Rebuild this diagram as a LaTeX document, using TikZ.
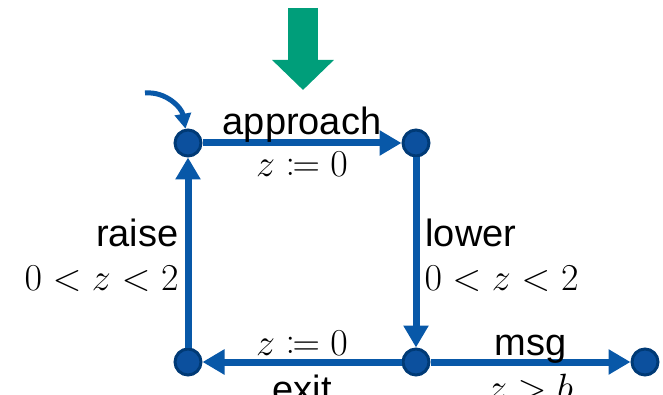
\RequirePackage{fix-cm}
\documentclass[tikz,border=0pt]{standalone}
\usepackage[no-math]{fontspec}
\setmainfont{Liberation Sans}
\usepackage{mathtools}
\usetikzlibrary{arrows.meta}
\definecolor{edgeblue}{RGB}{8,88,168}
\definecolor{locfill}{RGB}{12,80,158}
\definecolor{locdraw}{RGB}{0,58,118}
\definecolor{urgentgreen}{RGB}{0,158,122}
\begin{document}
\begin{tikzpicture}[x=1pt, y=-1pt,
    loc/.style={circle, fill=locfill, draw=locdraw, line width=3pt, minimum size=26pt, inner sep=0pt},
    edge/.style={-{Triangle[length=22pt,width=24pt]}, line width=7pt, draw=edgeblue},
    lbl/.style={font=\fontsize{38}{44}\selectfont, text=black, inner sep=0pt},
]
\useasboundingbox (0,0) rectangle (663,395);

\node[loc] (s0) at (188,143) {};
\node[loc] (s1) at (416,143) {};
\node[loc] (s2) at (416,362) {};
\node[loc] (s3) at (188,362) {};
\node[loc] (s4) at (645,362) {};

\coordinate (urgTop) at (303,8);
\coordinate (urgTip) at (303,90);
\coordinate (init) at (145,93);

\draw[line width=30pt, draw=urgentgreen, -{Triangle[length=30pt,width=60pt]}] (urgTop) -- (urgTip);
\draw[edge, line width=5pt, -{Triangle[length=15pt,width=16pt]}] (init) to[out=5, in=100] (s0);

\draw[edge] (s0) -- (s1) node[lbl, midway, anchor=base, yshift=8pt] {approach}
                         node[lbl, midway, anchor=base, yshift=-34pt] {$z \coloneqq 0$};
\draw[edge] (s1) -- (s2) node[lbl, midway, anchor=base west, xshift=6pt, yshift=5.5pt] {lower}
                         node[lbl, midway, anchor=base west, xshift=5pt, yshift=-37.5pt] {$0<z<2$};
\draw[edge] (s2) -- (s3) node[lbl, midway, anchor=base, yshift=7pt] {$z \coloneqq 0$}
                         node[lbl, midway, anchor=base, yshift=-40pt] {exit};
\draw[edge] (s3) -- (s0) node[lbl, midway, anchor=base east, xshift=-6pt, yshift=5.5pt] {raise}
                         node[lbl, midway, anchor=base east, xshift=-6pt, yshift=-37.5pt] {$0<z<2$};
\draw[edge] (s2) -- (s4) node[lbl, midway, anchor=base, yshift=7pt] {msg}
                         node[lbl, midway, anchor=base, yshift=-38pt] {$z > b$};
\end{tikzpicture}
\end{document}
